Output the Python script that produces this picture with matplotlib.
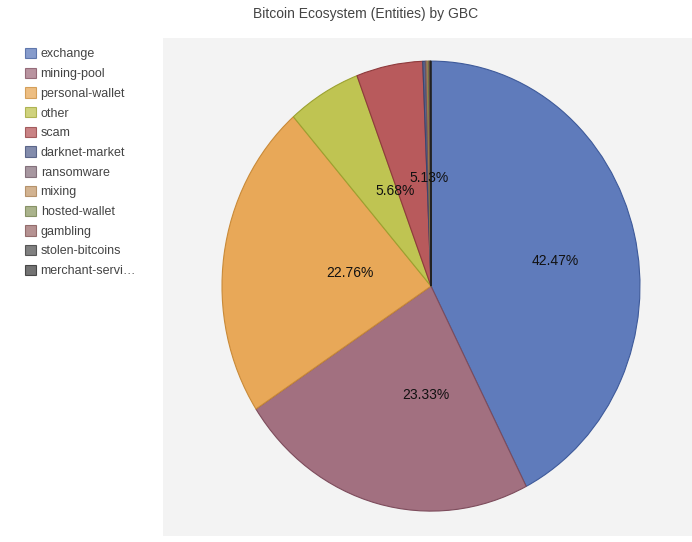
import matplotlib
matplotlib.use('Agg')

import matplotlib.pyplot as plt
from matplotlib.patches import Patch

plt.rcParams['font.family'] = ['Liberation Sans', 'DejaVu Sans']

# entity categories and their share (%)
categories = ['exchange', 'mining-pool', 'personal-wallet', 'other', 'scam',
              'darknet-market', 'ransomware', 'mixing', 'hosted-wallet',
              'gambling', 'stolen-bitcoins', 'merchant-services']
shares = [42.47, 23.33, 22.76, 5.68, 5.13, 0.20, 0.12, 0.10, 0.08, 0.06, 0.04, 0.03]

colors = ['#5f7bbb', '#a27080', '#e8a858', '#bfc452', '#b85a5c', '#5a6690',
          '#8a7480', '#c49a6c', '#8e9a66', '#9c6e6e', '#555555', '#444444']
edges = ['#3e5a9a', '#7d4c5c', '#c98a38', '#9ca230', '#8e3a3c', '#3a4670',
         '#6a5460', '#a47a4c', '#6e7a46', '#7c4e4e', '#333333', '#222222']

fig = plt.figure(figsize=(6.92, 5.42), dpi=100)
fig.patch.set_facecolor('white')

ax = fig.add_axes([163 / 692, 6 / 542, 529 / 692, 498 / 542])
ax.set_facecolor('#f3f3f3')

wedges, texts, autotexts = ax.pie(
    shares, colors=colors, startangle=90, counterclock=False,
    autopct=lambda p: '%.2f%%' % p if p > 5 else '',
    pctdistance=0.55, radius=1.0,
    wedgeprops=dict(linewidth=0.8),
    textprops=dict(fontsize=10, color='#111111'))
for w, ec in zip(wedges, edges):
    w.set_edgecolor(ec)

# the pie is stretched slightly taller than wide
ax.set_aspect('auto')
ax.set_frame_on(True)
for s in ax.spines.values():
    s.set_visible(False)
ax.set_xlim(-1.2656 - 0.0167, 1.2656 - 0.0167)
ax.set_ylim(-1.1067 - 0.004, 1.1067 - 0.004)
ax.set_xticks([])
ax.set_yticks([])

# label placement for the slices (axes fraction)
label_pos = {0: (0.741, 0.552), 1: (0.497, 0.283), 2: (0.353, 0.528),
             3: (0.438, 0.693), 4: (0.503, 0.719)}
for i, t in enumerate(autotexts):
    if i in label_pos:
        t.set_transform(ax.transAxes)
        t.set_position(label_pos[i])
        t.set_ha('center')
        t.set_va('center')

shown = ['merchant-servi…' if c == 'merchant-services' else c for c in categories]
handles = [Patch(facecolor=c, edgecolor=e, alpha=0.75, linewidth=0.8)
           for c, e in zip(colors, edges)]
fig.legend(handles, shown, loc='upper left', bbox_to_anchor=(25 / 692, 1 - 48 / 542),
           frameon=False, fontsize=9, labelcolor='#444444',
           handlelength=0.9, handleheight=0.9, handletextpad=0.35,
           labelspacing=0.575, borderaxespad=0, borderpad=0)

fig.text(365.5 / 692, 1 - 14 / 542, 'Bitcoin Ecosystem (Entities) by GBC', ha='center', va='center',
         fontsize=10, color='#444444')

plt.savefig('out.png', dpi=100)
